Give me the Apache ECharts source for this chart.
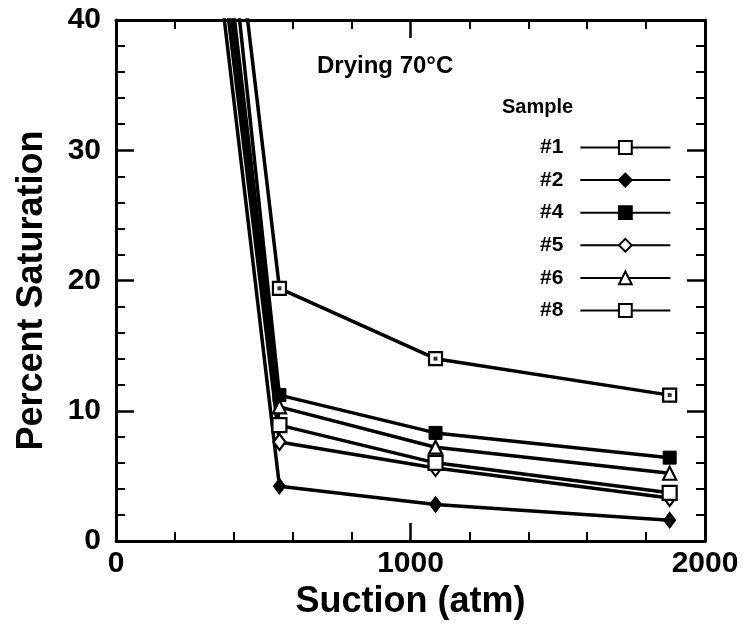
<!DOCTYPE html>
<html>
<head>
<meta charset="utf-8">
<script src="https://cdn.jsdelivr.net/npm/echarts@6/dist/echarts.min.js"></script>
<style>
html,body{margin:0;padding:0;background:#fff;}
#chart{width:752px;height:625px;}
</style>
</head>
<body>
<div id="chart"></div>
<script>
// Suction (atm); first point lies above the 40% axis limit (clipped)
const suction = [300, 555, 1085, 1880];
const sample1 = [68, 19.4, 14.0, 11.2];
const sample2 = [53, 4.2, 2.8, 1.6];
const sample4 = [65.5, 11.2, 8.3, 6.4];
const sample5 = [55.5, 7.6, 5.6, 3.3];
const sample6 = [60, 10.3, 7.2, 5.2];
const sample8 = [58, 8.9, 6.0, 3.7];
const sampleNames = ['#1', '#2', '#4', '#5', '#6', '#8'];
const xTicks = [0, 1000, 2000];
const yTicks = [0, 10, 20, 30, 40];

const FONT = '"Liberation Sans", Arial, Helvetica, sans-serif';
const pairs = (ys) => suction.map((x, i) => [x, ys[i]]);

function lineSeries(name, ys, symbol, size, filled) {
  return {
    name: name,
    type: 'line',
    data: pairs(ys),
    symbol: symbol,
    symbolSize: size,
    showAllSymbol: true,
    clip: true,
    lineStyle: { color: '#000', width: 3.5 },
    itemStyle: filled
      ? { color: '#000', borderColor: '#000', borderWidth: 1 }
      : { color: '#fff', borderColor: '#000', borderWidth: 2.2 },
    emphasis: { disabled: true },
    z: 3
  };
}

const axisLineStyle = { onZero: false, lineStyle: { color: '#000', width: 3 } };
const tickStyle = { show: true, inside: true, length: 18, lineStyle: { color: '#000', width: 2.5 } };
const minorStyle = { show: true, splitNumber: 5, length: 9, lineStyle: { color: '#000', width: 2 } };
const plain = (v) => String(v);

const chart = echarts.init(document.getElementById('chart'), null, { renderer: 'canvas' });
chart.setOption({
  animation: false,
  backgroundColor: '#fff',
  textStyle: { fontFamily: FONT },
  title: [
    { text: 'Drying 70°C', left: 317, top: 54, padding: 0,
      textStyle: { fontSize: 24, fontWeight: 'bold', color: '#000', fontFamily: FONT } },
    { text: 'Sample', left: 502, top: 97, padding: 0,
      textStyle: { fontSize: 20, fontWeight: 'bold', color: '#000', fontFamily: FONT } }
  ],
  legend: {
    orient: 'vertical',
    left: 540,
    top: 137,
    padding: 0,
    align: 'right',
    itemWidth: 90,
    itemHeight: 16,
    itemGap: 11.6,
    selectedMode: false,
    data: sampleNames,
    textStyle: { fontSize: 21, fontWeight: 'bold', color: '#000', fontFamily: FONT,
      lineHeight: 16, padding: [0, 12, 0, 0] }
  },
  grid: { left: 116, right: 47, top: 20, bottom: 84, containLabel: false },
  xAxis: [
    {
      type: 'value', position: 'bottom', min: xTicks[0], max: xTicks[xTicks.length - 1],
      interval: xTicks[1] - xTicks[0],
      axisLine: axisLineStyle, axisTick: tickStyle, minorTick: minorStyle,
      splitLine: { show: false }, minorSplitLine: { show: false },
      axisLabel: { fontSize: 30, fontWeight: 'bold', color: '#000', margin: 8, fontFamily: FONT, formatter: plain },
      name: 'Suction (atm)', nameLocation: 'middle', nameGap: 42,
      nameTextStyle: { fontSize: 36, fontWeight: 'bold', color: '#000', fontFamily: FONT }
    },
    {
      type: 'value', position: 'top', min: xTicks[0], max: xTicks[xTicks.length - 1],
      interval: xTicks[1] - xTicks[0],
      axisLine: axisLineStyle, axisTick: tickStyle, minorTick: minorStyle,
      splitLine: { show: false }, axisLabel: { show: false }
    }
  ],
  yAxis: [
    {
      type: 'value', position: 'left', min: yTicks[0], max: yTicks[yTicks.length - 1],
      interval: yTicks[1] - yTicks[0],
      axisLine: axisLineStyle, axisTick: tickStyle, minorTick: minorStyle,
      splitLine: { show: false }, minorSplitLine: { show: false },
      axisLabel: { fontSize: 30, fontWeight: 'bold', color: '#000', margin: 15, fontFamily: FONT, formatter: plain },
      name: 'Percent Saturation', nameLocation: 'middle', nameGap: 66, nameRotate: 90,
      nameTextStyle: { fontSize: 36, fontWeight: 'bold', color: '#000', fontFamily: FONT, padding: [0, 20, 0, 0] }
    },
    {
      type: 'value', position: 'right', min: yTicks[0], max: yTicks[yTicks.length - 1],
      interval: yTicks[1] - yTicks[0],
      axisLine: axisLineStyle, axisTick: tickStyle, minorTick: minorStyle,
      splitLine: { show: false }, axisLabel: { show: false }
    }
  ],
  series: [
    lineSeries('#1', sample1, 'rect', 13, false),
    lineSeries('#2', sample2, 'diamond', [12, 16], true),
    lineSeries('#4', sample4, 'rect', 13, true),
    lineSeries('#5', sample5, 'diamond', [12, 16], false),
    lineSeries('#6', sample6, 'triangle', 13, false),
    lineSeries('#8', sample8, 'rect', 14, false),
    {
      name: 'dot1', type: 'scatter', data: pairs(sample1), symbol: 'rect', symbolSize: 4,
      itemStyle: { color: '#000' }, silent: true, clip: true, z: 5
    }
  ]
});
</script>
</body>
</html>
